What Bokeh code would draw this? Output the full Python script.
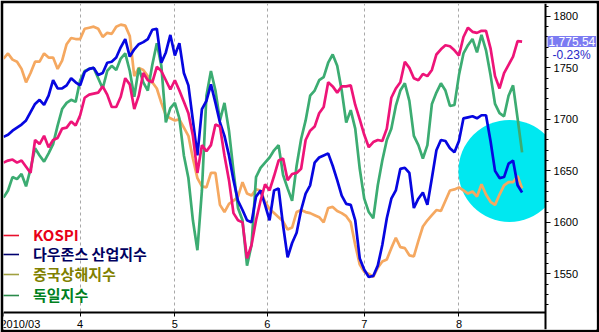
import numpy as np
from bokeh.plotting import figure
from bokeh.models import (Range1d, FixedTicker, Label, Legend,
                          LegendItem, LinearAxis, BoxAnnotation)
from bokeh.embed import file_html
from bokeh.resources import INLINE

# ---- data (trading-day index, values on the KOSPI scale) ----
month_ticks = [0, 17, 38, 58.5, 80, 101]
month_labels = ["2010/03", "4", "5", "6", "7", "8"]
y_ticks = [1550, 1600, 1650, 1700, 1750, 1800]

series_names = ["KOSPI", "다우존스 산업지수", "중국상해지수", "독일지수"]

kospi = [1658, 1660, 1661, 1658, 1660, 1654, 1648, 1680, 1676, 1684,
         1673, 1680, 1682, 1691, 1692, 1698, 1694, 1704, 1721, 1724,
         1725, 1726, 1732, 1724, 1712, 1712, 1722, 1740, 1734, 1710,
         1723, 1745, 1738, 1736, 1751, 1747, 1738, 1729, 1738, 1728,
         1717, 1706, 1684, 1648, 1675, 1669, 1675, 1695, 1693, 1665,
         1641, 1609, 1602, 1600, 1565, 1578, 1602, 1621, 1637, 1631,
         1645, 1660, 1662, 1641, 1647, 1648, 1652, 1680, 1689, 1693,
         1706, 1712, 1736, 1732, 1726, 1732, 1732, 1733, 1714, 1700,
         1685, 1673, 1678, 1680, 1679, 1691, 1721, 1730, 1736, 1756,
         1750, 1740, 1738, 1744, 1742, 1748, 1763, 1768, 1772, 1771,
         1767, 1762, 1780, 1789, 1785, 1784, 1786, 1786, 1769, 1742,
         1730, 1745, 1753, 1761, 1776, 1775.54]

dow = [1683, 1685, 1689, 1692, 1695, 1699, 1707, 1715, 1719, 1714,
       1723, 1738, 1730, 1730, 1733, 1740, 1736, 1733, 1746, 1749,
       1750, 1743, 1745, 1755, 1756, 1760, 1770, 1778, 1761, 1768,
       1773, 1775, 1778, 1787, 1788, 1755, 1765, 1782, 1762, 1774,
       1745, 1733, 1699, 1665, 1710, 1718, 1734, 1716, 1697, 1684,
       1665, 1641, 1621, 1612, 1602, 1600, 1625, 1631, 1617, 1602,
       1631, 1633, 1597, 1566, 1580, 1590, 1612, 1628, 1636, 1658,
       1663, 1665, 1667, 1655, 1641, 1626, 1618, 1617, 1602, 1565,
       1554, 1547, 1548, 1558, 1578, 1604, 1623, 1631, 1652, 1653,
       1648, 1614, 1623, 1629, 1617, 1643, 1670, 1680, 1679, 1672,
       1668, 1679, 1701, 1702, 1703, 1701, 1704, 1704, 1679, 1650,
       1643, 1644, 1657, 1660, 1636, 1629]

shanghai = [1759, 1764, 1758, 1756, 1749, 1736, 1745, 1756, 1756, 1764,
            1760, 1760, 1749, 1757, 1773, 1779, 1778, 1778, 1788, 1789,
            1790, 1788, 1780, 1784, 1783, 1790, 1792, 1791, 1781, 1742,
            1750, 1748, 1742, 1736, 1730, 1716, 1704, 1701, 1699, 1700,
            1692, 1684, 1662, 1643, 1635, 1634, 1648, 1648, 1617, 1610,
            1618, 1621, 1625, 1639, 1628, 1626, 1632, 1631, 1620, 1613,
            1609, 1605, 1601, 1593, 1595, 1610, 1612, 1610, 1609, 1607,
            1605, 1600, 1614, 1615, 1611, 1609, 1606, 1600, 1578, 1559,
            1552, 1550, 1547, 1556, 1562, 1564, 1575, 1585, 1576, 1575,
            1568, 1567, 1582, 1596, 1602, 1607, 1612, 1611, 1621, 1631,
            1632, 1634, 1631, 1628, 1630, 1625, 1637, 1627, 1620, 1617,
            1627, 1636, 1639, 1639, 1645, 1633]

dax = [1624, 1631, 1644, 1642, 1647, 1635, 1652, 1672, 1665, 1659,
       1667, 1676, 1694, 1710, 1716, 1719, 1717, 1738, 1747, 1749,
       1750, 1740, 1730, 1747, 1752, 1748, 1759, 1764, 1747, 1722,
       1750, 1736, 1728, 1753, 1774, 1752, 1697, 1711, 1716, 1701,
       1665, 1643, 1602, 1573, 1631, 1723, 1747, 1728, 1699, 1716,
       1689, 1650, 1614, 1602, 1558, 1578, 1644, 1653, 1658, 1663,
       1670, 1675, 1646, 1633, 1621, 1655, 1681, 1699, 1723, 1728,
       1738, 1741, 1755, 1763, 1752, 1728, 1697, 1709, 1691, 1652,
       1623, 1610, 1604, 1636, 1660, 1680, 1691, 1713, 1728, 1735,
       1718, 1684, 1675, 1662, 1675, 1715, 1726, 1735, 1728, 1713,
       1714, 1743, 1764, 1772, 1778, 1765, 1782, 1767, 1743, 1715,
       1706, 1703, 1723, 1733, 1701, 1668]

last_price = kospi[-1]
change_pct = -0.23

# layout constants (positions, not data)
X_END = 120.2          # right edge of the plotting area (price axis position)
X_MAX = 131.5          # right edge of the canvas frame
Y_BOT = 1512.5         # bottom of the plotting area (date axis position)
Y_MIN, Y_MAX = 1496.0, 1812.5
highlight_x, highlight_y = 112.2, 1650

x = np.arange(len(kospi))
y_minor = [v for v in range(1520, 1811, 10) if v not in y_ticks]

# ---- figure: frame fills the canvas; axes are pinned inside it ----
p = figure(width=599, height=332,
           x_range=Range1d(0, X_MAX), y_range=Range1d(Y_MIN, Y_MAX),
           x_axis_location=None, y_axis_location=None,
           output_backend="svg", toolbar_location=None,
           min_border_left=3, min_border_top=3, min_border_right=3, min_border_bottom=3)
p.background_fill_color = "white"
p.border_fill_color = "black"
p.outline_line_color = None

p.xgrid.ticker = FixedTicker(ticks=month_ticks[1:])
p.xgrid.grid_line_color = "#a8a8a8"
p.xgrid.grid_line_dash = "3 3"
p.ygrid.grid_line_color = None

# highlight
p.scatter([highlight_x], [highlight_y], size=102, marker="circle",
          fill_color="#00e8f0", line_color=None)

line_colors = ["#ee1478", "#0606e0", "#f5a860", "#3cac72"]
r_cn = p.line(x, shanghai, line_color=line_colors[2], line_width=2.7)
r_de = p.line(x, dax, line_color=line_colors[3], line_width=2.7)
r_dow = p.line(x, dow, line_color=line_colors[1], line_width=2.7)
r_ks = p.line(x, kospi, line_color=line_colors[0], line_width=2.7)

# masks for the axis areas (right strip and bottom strip)
p.add_layout(BoxAnnotation(left=X_END, fill_color="white", fill_alpha=1,
                           line_color=None, level="glyph"))
p.add_layout(BoxAnnotation(top=Y_BOT, fill_color="white", fill_alpha=1,
                           line_color=None, level="glyph"))

# ---- axes ----
xa = LinearAxis(fixed_location=Y_BOT, bounds=(0, X_END),
                ticker=FixedTicker(ticks=month_ticks),
                major_label_overrides={t: l for t, l in zip(month_ticks, month_labels)},
                major_label_text_align="left", major_label_text_font="Liberation Sans",
                major_label_text_font_size="11px", major_label_text_color="black",
                major_label_standoff=1,
                axis_line_color="black", axis_line_width=2,
                major_tick_in=0, major_tick_out=4, major_tick_line_color="black",
                minor_tick_line_color=None)
p.add_layout(xa, "below")

ya = LinearAxis(fixed_location=X_END,
                ticker=FixedTicker(ticks=y_ticks, minor_ticks=y_minor),
                major_label_text_font="Liberation Sans", major_label_text_font_size="11px",
                major_label_text_color="black", major_label_standoff=3,
                axis_line_color="black", axis_line_width=2,
                major_tick_in=0, major_tick_out=5, minor_tick_in=0, minor_tick_out=3,
                major_tick_line_color="black", minor_tick_line_color="black")
p.add_layout(ya, "right")

# ---- legend (one per series so each label keeps its colour) ----
dash_colors = ["#e8102c", "#000070", "#a0a040", "#2a8a4a"]
text_colors = ["#e80018", "#000060", "#808000", "#008020"]
bottoms = [84, 65, 45, 24]
for name, dc, tc, b in zip(series_names, dash_colors, text_colors, bottoms):
    swatch = p.line([-3, -2], [Y_MIN, Y_MIN], line_color=dc, line_width=1.6)
    lg = Legend(items=[LegendItem(label=name, renderers=[swatch])],
                location=(0, b), padding=0, margin=0, spacing=0,
                border_line_color=None, background_fill_alpha=0,
                glyph_width=16, glyph_height=20, label_height=20,
                label_standoff=14, label_text_color=tc,
                label_text_font="Noto Sans CJK KR", label_text_font_style="bold",
                label_text_font_size="15px")
    p.add_layout(lg)

# ---- last price tag ----
p.add_layout(Label(x=X_END + 0.45, y=last_price,
                   text=f"{last_price:,.2f}", text_color="white",
                   background_fill_color="#7b7bf2", background_fill_alpha=1,
                   padding=1, text_font="Liberation Sans",
                   text_font_size="12px", text_baseline="middle", text_align="left"))
p.add_layout(Label(x=X_MAX - 1.3, y=last_price - 13,
                   text=f"{change_pct:.2f}%", text_color="#2828c8",
                   text_font="Liberation Sans", text_font_size="12px",
                   text_baseline="middle", text_align="right"))

open("out.html", "w").write(file_html(p, INLINE))
